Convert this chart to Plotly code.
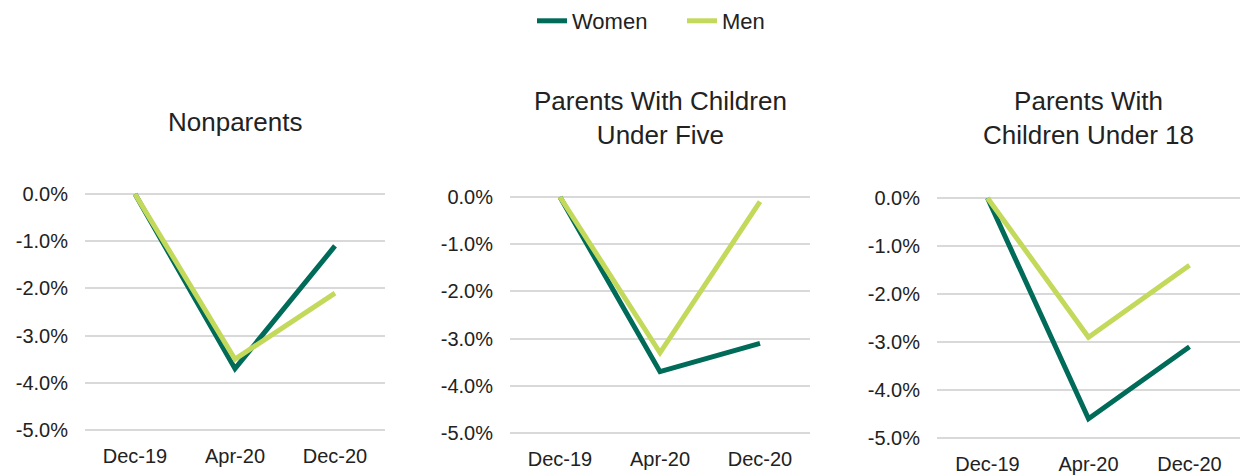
import plotly.graph_objects as go

W, H = 1241, 476

# data (change vs Dec-19, as fraction)
months = ["Dec-19", "Apr-20", "Dec-20"]
panel_titles = ["Nonparents", "Parents With Children<br>Under Five", "Parents With<br>Children Under 18"]
women = [
    [0.0, -0.037, -0.011],
    [0.0, -0.037, -0.031],
    [0.0, -0.046, -0.031],
]
men = [
    [0.0, -0.035, -0.021],
    [0.0, -0.033, -0.001],
    [0.0, -0.029, -0.014],
]
y_ticks = [0.0, -0.01, -0.02, -0.03, -0.04, -0.05]
y_tick_labels = ["0.0%", "-1.0%", "-2.0%", "-3.0%", "-4.0%", "-5.0%"]

WOMEN_COLOR = "#006b58"
MEN_COLOR = "#c3d95b"
FONT = "Liberation Sans, Arial, sans-serif"

# pixel boxes of each plot area: left, right, y of 0%, y of -5%
boxes = [
    (85, 385, 194, 430),
    (510, 810, 197, 433),
    (937, 1240, 198, 438),
]
title_y = [122, 118, 118]
pad = 0.0008

fig = go.Figure()

for i in range(3):
    ax = "" if i == 0 else str(i + 1)
    fig.add_trace(go.Scatter(
        x=months, y=women[i], mode="lines", name="Women",
        line=dict(color=WOMEN_COLOR, width=5), showlegend=(i == 0),
        xaxis="x" + ax, yaxis="y" + ax,
    ))
    fig.add_trace(go.Scatter(
        x=months, y=men[i], mode="lines", name="Men",
        line=dict(color=MEN_COLOR, width=5), showlegend=(i == 0),
        xaxis="x" + ax, yaxis="y" + ax,
    ))

    left, right, top, bottom = boxes[i]
    ppu = (bottom - top) / 0.05
    top_px = top - pad * ppu
    bot_px = bottom + pad * ppu

    fig.update_layout(**{
        "xaxis" + ax: dict(
            domain=[left / W, right / W], anchor="y" + ax,
            type="category", range=[-0.5, 2.5],
            showgrid=False, showline=False, ticks="",
            ticklabelstandoff=8,
            tickfont=dict(size=20, color="#222222", family=FONT),
        ),
        "yaxis" + ax: dict(
            domain=[1 - bot_px / H, 1 - top_px / H], anchor="x" + ax,
            range=[-0.05 - pad, pad],
            tickvals=y_ticks, ticktext=y_tick_labels,
            showgrid=True, gridcolor="#d9d9d9", gridwidth=2,
            zeroline=False, showline=False, ticks="",
            ticklabelstandoff=16,
            tickfont=dict(size=20, color="#222222", family=FONT),
        ),
    })

    fig.add_annotation(
        text=panel_titles[i], x=(left + right) / 2 / W, y=1 - title_y[i] / H,
        xref="paper", yref="paper", xanchor="center", yanchor="middle",
        showarrow=False,
        font=dict(size=26, color="#222222", family=FONT),
    )

fig.update_layout(
    width=W, height=H,
    margin=dict(l=0, r=0, t=0, b=0, autoexpand=False),
    paper_bgcolor="white", plot_bgcolor="white",
    font=dict(family=FONT),
    legend=dict(
        orientation="h", x=532 / W, xanchor="left", y=1.0, yanchor="top",
        font=dict(size=22, color="#222222", family=FONT),
        entrywidth=105, entrywidthmode="pixels", tracegroupgap=0,
    ),
)

fig.write_html("out.html", config={"displayModeBar": False},
               post_script="document.body.style.margin='0';")
